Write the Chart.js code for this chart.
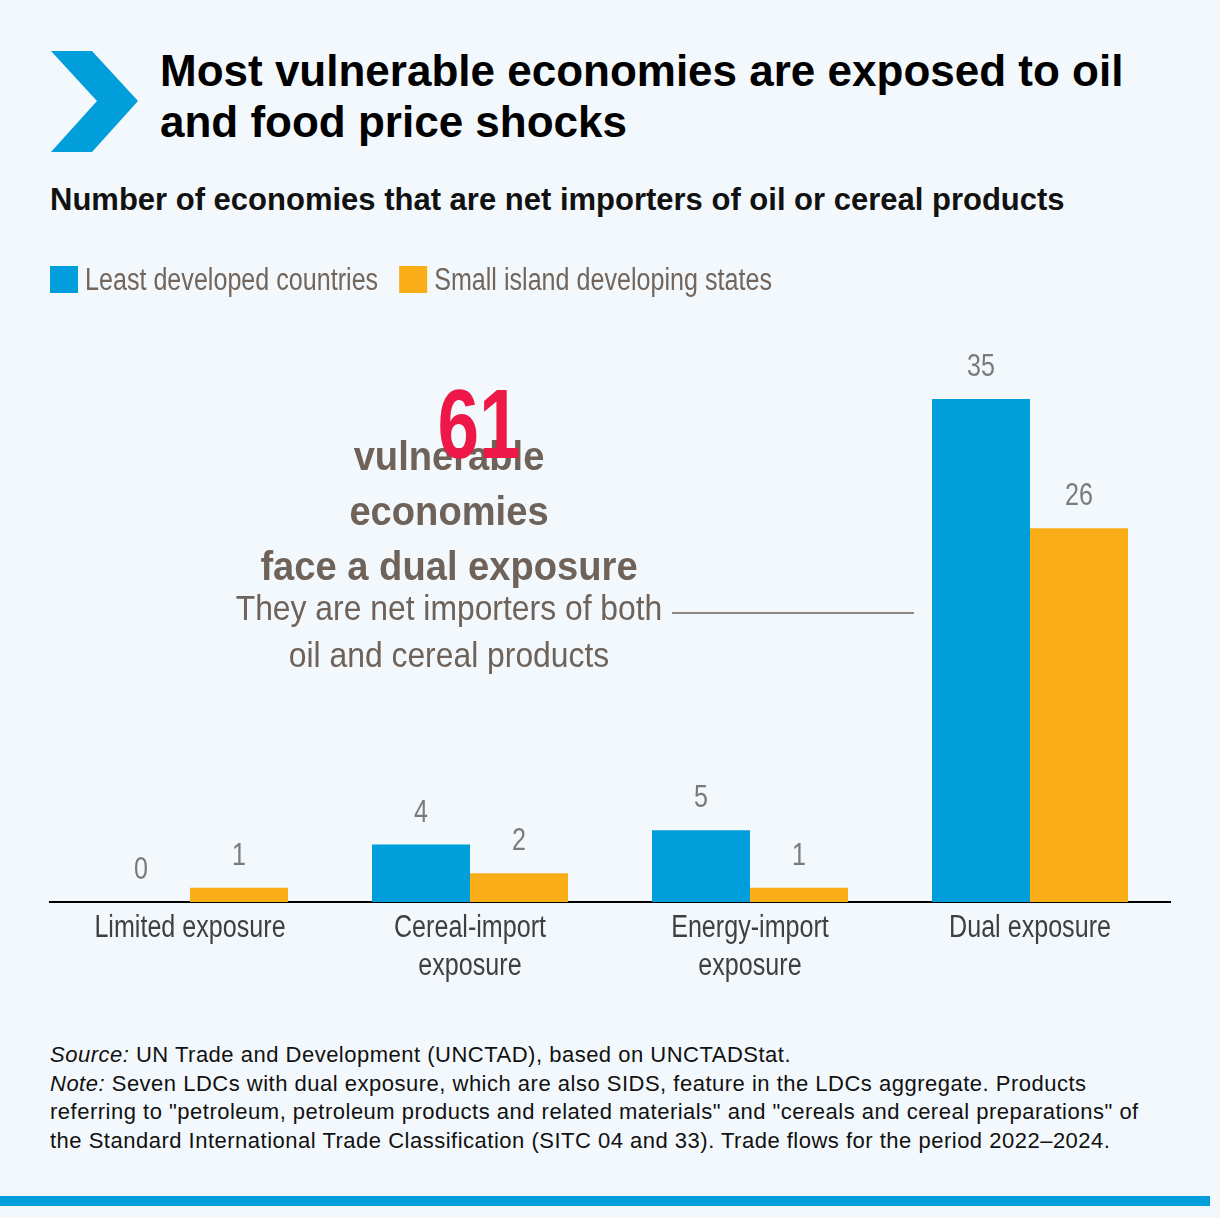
<!doctype html>
<html>

<head>
    <title>Most vulnerable economies are exposed to oil and food price shocks</title>
    <script src="https://cdn.jsdelivr.net/npm/chart.js@4.4.1/dist/chart.umd.min.js"></script>
    <style>
    body {
        margin: 0;
        background: #f3f8fc;
        width: 1220px;
        height: 1218px;
        position: relative;
        overflow: hidden;
        font-family: "Liberation Sans", Arial, sans-serif;
    }
    #title {
        position: absolute;
        left: 160px;
        top: 45px;
        font-size: 44px;
        line-height: 51px;
        font-weight: bold;
        color: #000;
        white-space: nowrap;
    }
    #subtitle {
        position: absolute;
        left: 50px;
        top: 182px;
        font-size: 31px;
        line-height: 36px;
        font-weight: bold;
        color: #111;
        white-space: nowrap;
    }
    #container {
        position: absolute;
        left: 0;
        top: 240px;
        width: 1220px;
        height: 760px;
    }
    #notes {
        position: absolute;
        left: 50px;
        top: 1041px;
        font-size: 22px;
        line-height: 28.5px;
        letter-spacing: 0.5px;
        color: #111;
        white-space: nowrap;
    }
    #bottombar {
        position: absolute;
        left: 0;
        top: 1196px;
        width: 1210px;
        height: 10px;
        background: #009edb;
    }
    </style>
</head>

<body>
    <svg style="position:absolute;left:0;top:0" width="160" height="170">
        <polygon points="51,51 92,51 138,101 92,152 51,152 97,101" fill="#009edb"></polygon>
    </svg>
    <div id="title">Most vulnerable economies are exposed to oil<br>and food price shocks</div>
    <div id="subtitle">Number of economies that are net importers of oil or cereal products</div>

    <div id="container">
        <canvas id="canvas"></canvas>
    </div>

    <div id="notes">
        <i>Source:</i> UN Trade and Development (UNCTAD), based on UNCTADStat.<br>
        <i>Note:</i> Seven LDCs with dual exposure, which are also SIDS, feature in the LDCs aggregate. Products<br>
        referring to "petroleum, petroleum products and related materials" and "cereals and cereal preparations" of<br>
        the Standard International Trade Classification (SITC 04 and 33). Trade flows for the period 2022–2024.
    </div>
    <div id="bottombar"></div>

    <script>
        var FONT = '"Liberation Sans", Arial, sans-serif';
        var OFFSET = 240; // canvas top on the page

        var categories = [
            ['Limited exposure'],
            ['Cereal-import', 'exposure'],
            ['Energy-import', 'exposure'],
            ['Dual exposure']
        ];
        var seriesNames = ['Least developed countries', 'Small island developing states'];
        var ldcValues = [0, 4, 5, 35];
        var sidsValues = [1, 2, 1, 26];
        var seriesColors = ['#009edb', '#f9ae18'];

        var barChartData = {
            labels: categories,
            datasets: [{
                label: seriesNames[0],
                backgroundColor: seriesColors[0],
                borderWidth: 0,
                data: ldcValues
            }, {
                label: seriesNames[1],
                backgroundColor: seriesColors[1],
                borderWidth: 0,
                data: sidsValues
            }]
        };

        // draw text squeezed horizontally (no condensed font installed)
        function squeezed(ctx, text, x, y, font, sx, align) {
            ctx.save();
            ctx.font = font;
            ctx.textAlign = align || 'center';
            ctx.textBaseline = 'alphabetic';
            ctx.translate(x, y);
            ctx.scale(sx, 1);
            ctx.fillText(text, 0, 0);
            ctx.restore();
        }

        var decorPlugin = {
            id: 'decor',
            afterDraw: function(chart) {
                var ctx = chart.ctx;
                var sx = 0.81;
                var f31 = '31px ' + FONT;

                // legend
                var lx = 50;
                chart.data.datasets.forEach(function(ds) {
                    ctx.fillStyle = ds.backgroundColor;
                    ctx.fillRect(lx, 266 - OFFSET, 28, 27);
                    ctx.fillStyle = '#72655c';
                    squeezed(ctx, ds.label, lx + 35, 290 - OFFSET, f31, sx, 'left');
                    ctx.font = f31;
                    lx += 35 + ctx.measureText(ds.label).width * sx + 21;
                });

                // value labels above bars
                ctx.fillStyle = '#7a7a7a';
                chart.data.datasets.forEach(function(dataset, i) {
                    chart.getDatasetMeta(i).data.forEach(function(bar, j) {
                        squeezed(ctx, String(dataset.data[j]), bar.x, bar.y - 23, f31, sx);
                    });
                });

                // category labels from the x scale
                var xs = chart.scales.x;
                ctx.fillStyle = '#3f3f3f';
                chart.data.labels.forEach(function(lines, i) {
                    var px = xs.getPixelForTick(i);
                    lines.forEach(function(line, k) {
                        squeezed(ctx, line, px, xs.top + 35 + k * 38, f31, sx);
                    });
                });

                // callout
                var cx = 449;
                ctx.fillStyle = '#6e6259';
                var fb = 'bold 41px ' + FONT;
                squeezed(ctx, 'vulnerable', cx, 470 - OFFSET, fb, 0.93);
                squeezed(ctx, 'economies', cx, 525 - OFFSET, fb, 0.93);
                squeezed(ctx, 'face a dual exposure', cx, 580 - OFFSET, fb, 0.93);
                ctx.fillStyle = '#ed1847';
                squeezed(ctx, '61', 479, 458 - OFFSET, 'bold 99px ' + FONT, 0.755);
                ctx.fillStyle = '#6e6259';
                var fr = '35px ' + FONT;
                squeezed(ctx, 'They are net importers of both', cx, 620 - OFFSET, fr, 0.91);
                squeezed(ctx, 'oil and cereal products', cx, 667 - OFFSET, fr, 0.91);

                ctx.save();
                ctx.strokeStyle = '#6e6259';
                ctx.lineWidth = 1.5;
                ctx.beginPath();
                ctx.moveTo(672, 613 - OFFSET);
                ctx.lineTo(914, 613 - OFFSET);
                ctx.stroke();
                ctx.restore();
            }
        };

        window.onload = function() {
            var ctx = document.getElementById("canvas").getContext("2d");
            window.myBar = new Chart(ctx, {
                type: 'bar',
                data: barChartData,
                plugins: [decorPlugin],
                options: {
                    responsive: true,
                    maintainAspectRatio: false,
                    animation: false,
                    categoryPercentage: 0.7,
                    barPercentage: 1.0,
                    layout: {
                        padding: { left: 50, right: 50, top: 87, bottom: 0 }
                    },
                    plugins: {
                        legend: { display: false },
                        title: { display: false },
                        tooltip: { enabled: false }
                    },
                    scales: {
                        y: {
                            display: false,
                            min: 0,
                            max: 40
                        },
                        x: {
                            grid: { display: false, drawTicks: false },
                            border: { display: true, color: '#000', width: 2 },
                            ticks: { display: false },
                            afterFit: function(scale) {
                                scale.height = 98;
                            }
                        }
                    }
                }
            });
        };
    </script>
</body>

</html>
